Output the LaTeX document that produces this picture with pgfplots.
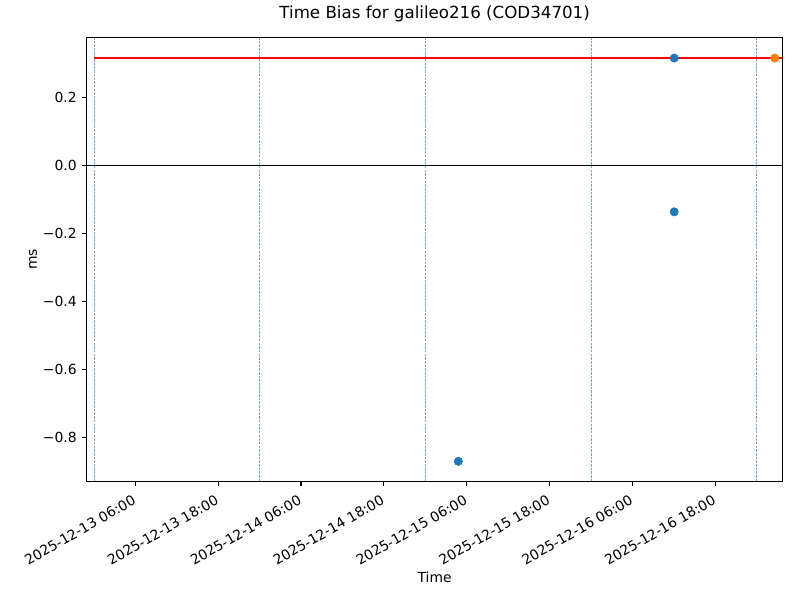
\documentclass[border=0pt]{standalone}
\usepackage{fontspec}
\setmainfont{DejaVu Sans}
\usepackage{pgfplots}
\pgfplotsset{compat=1.18}
\definecolor{cZero}{HTML}{1F77B4}
\definecolor{cOne}{HTML}{FF7F0E}
\definecolor{vline}{RGB}{110,165,210}
\begin{document}
\begin{tikzpicture}
\begin{axis}[
  at={(0,0)}, anchor=south west,
  scale only axis,
  width=501.1pt, height=319.7pt,
  xmin=-1.04, xmax=99.75,
  ymin=-0.929, ymax=0.3765,
  axis line style={line width=0.8pt},
  tick align=outside,
  xtick pos=bottom, ytick pos=left,
  major tick length=3.5pt,
  every tick/.style={black, line width=0.8pt},
  xtick={6,18,30,42,54,66,78,90},
  xticklabels={2025-12-13 06:00,2025-12-13 18:00,2025-12-14 06:00,2025-12-14 18:00,2025-12-15 06:00,2025-12-15 18:00,2025-12-16 06:00,2025-12-16 18:00},
  xticklabel style={rotate=30, anchor=north east, font=\fontsize{10}{12}\selectfont, inner sep=0pt, yshift=-3.5pt, xshift=-5pt},
  ytick={-0.8,-0.6,-0.4,-0.2,0,0.2},
  yticklabels={−0.8,−0.6,−0.4,−0.2,0.0,0.2},
  yticklabel style={font=\fontsize{10}{12}\selectfont, inner sep=0pt, xshift=-3.5pt, anchor=east},
  title={Time Bias for galileo216 (COD34701)},
  title style={at={(rel axis cs:0.5,1)}, anchor=center, yshift=11pt, font=\fontsize{12}{14}\selectfont},
  xlabel={Time},
  xlabel style={at={(rel axis cs:0.5,0)}, anchor=center, yshift=-69pt, font=\fontsize{10}{12}\selectfont},
  ylabel={ms},
  every axis y label/.style={at={(rel axis cs:0,0.5)}, anchor=center, xshift=-38.6pt, rotate=90, font=\fontsize{10}{12}\selectfont},
  axis on top=true,
  clip=true,
]
% midnight separators
\addplot[vline, line width=0.5pt, dash pattern=on 1.85pt off 0.8pt] coordinates {(0,-2) (0,2)};
\addplot[vline, line width=0.5pt, dash pattern=on 1.85pt off 0.8pt] coordinates {(24,-2) (24,2)};
\addplot[vline, line width=0.5pt, dash pattern=on 1.85pt off 0.8pt] coordinates {(48,-2) (48,2)};
\addplot[vline, line width=0.5pt, dash pattern=on 1.85pt off 0.8pt] coordinates {(72,-2) (72,2)};
\addplot[vline, line width=0.5pt, dash pattern=on 1.85pt off 0.8pt] coordinates {(96,-2) (96,2)};
% zero line
\addplot[black, line width=0.8pt] coordinates {(-5,0) (105,0)};
% red reference line
\addplot[red, line width=1.5pt] coordinates {(0,0.3156) (105,0.3156)};
% blue points
\addplot[only marks, mark=*, mark size=3pt, cZero, mark options={draw=cZero, fill=cZero}] coordinates {
(52.78,-0.870) (84.05,0.3156) (84.05,-0.1365)
};
% orange point
\addplot[only marks, mark=*, mark size=3pt, cOne, mark options={draw=cOne, fill=cOne}] coordinates {
(98.6,0.3156)
};
\end{axis}
\pgfresetboundingbox
\path (-62.4pt,-85.5pt) rectangle (513.6pt,346.6pt);
\end{tikzpicture}
\end{document}
